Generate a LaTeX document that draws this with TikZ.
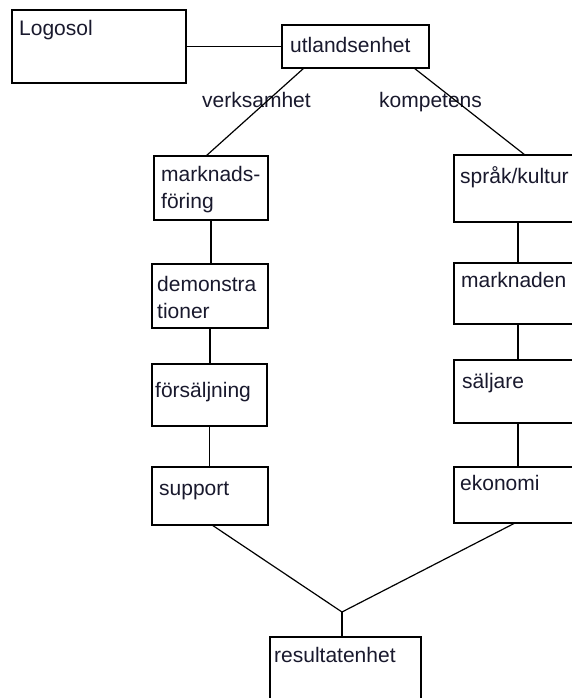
\documentclass[tikz,border=0pt]{standalone}
\usepackage{fontspec}
\setmainfont{Liberation Sans}
\usetikzlibrary{positioning}
\definecolor{textfarg}{RGB}{25,25,45}

\begin{document}
\begin{tikzpicture}[
    x=1pt, y=-1pt,
    font=\fontsize{21}{27}\selectfont,
    boks/.style={draw, line width=2pt, anchor=north west,
                 inner sep=0pt, outer sep=0pt},
    tekst/.style={anchor=base west, inner sep=0pt, align=left, text=textfarg},
    linje/.style={line width=1.8pt},
    sned/.style={line width=1.2pt}
  ]
    \useasboundingbox (0,0) rectangle (572,698);
    \fill[white] (0,0) rectangle (572,698);
    \clip (0,0) rectangle (572,698);
    % Rutor: vänster kolumn x 152, höger kolumn x 454 (skärs av vid kanten).
    \node[boks, minimum width=174pt, minimum height=73pt] (logosol) at (12,10) {};
    \node[boks, minimum width=147pt, minimum height=43pt] (utl) at (282,25) {};
    \node[boks, minimum width=114pt, minimum height=64pt] (mf) at (154,156) {};
    \node[boks, minimum width=116pt, minimum height=64pt] (demo) at (152,264) {};
    \node[boks, minimum width=115pt, minimum height=62pt] (fors) at (152,364) {};
    \node[boks, minimum width=116pt, minimum height=58pt] (sup) at (152,467) {};
    \node[boks, minimum width=128pt, minimum height=67pt] (sk) at (454,155) {};
    \node[boks, minimum width=128pt, minimum height=61pt] (mkn) at (454,263) {};
    \node[boks, minimum width=128pt, minimum height=63pt] (salj) at (454,360) {};
    \node[boks, minimum width=128pt, minimum height=56pt] (eko) at (454,467) {};
    \node[boks, minimum width=151pt, minimum height=80pt] (res) at (270,637) {};
    % Texter uppe till vänster i varje ruta (tvåradiga: sista radens baslinje)
    \node[tekst] (logosol-t) at (19,36) {Logosol};
    \node[tekst] (utl-t) at (290,53) {utlandsenhet};
    \node[tekst] (mf-t) at (161,208) {marknads-\\föring};
    \node[tekst] (demo-t) at (157,318) {demonstra\\tioner};
    \node[tekst] (fors-t) at (155,397) {försäljning};
    \node[tekst] (sup-t) at (159,495) {support};
    \node[tekst] (sk-t) at (460,183) {språk/kultur};
    \node[tekst] (mkn-t) at (461,287) {marknaden};
    \node[tekst] (salj-t) at (462,388) {säljare};
    \node[tekst] (eko-t) at (460,490) {ekonomi};
    \node[tekst] (res-t) at (274,662) {resultatenhet};
    \node[tekst] (verk) at (202,108) {verksamhet};
    \node[tekst] (komp) at (379,108) {kompetens};
    % Linjer
    \draw[linje] (logosol) -- (utl);
    \draw[sned] ([xshift=22pt]utl.south west) -- ([xshift=52pt]mf.north west);
    \draw[sned] ([xshift=-15pt]utl.south east) -- ([xshift=71pt]sk.north west);
    \draw[linje] (mf.south) -- (mf.south |- demo.north);
    \draw[linje] (demo.south) -- (demo.south |- fors.north);
    \draw[linje] (fors.south) -- (fors.south |- sup.north);
    \draw[linje] (sk.south) -- (sk.south |- mkn.north);
    \draw[linje] (mkn.south) -- (mkn.south |- salj.north);
    \draw[linje] (salj.south) -- (salj.south |- eko.north);
    \coordinate (knut) at (342,612);
    \draw[sned] ([xshift=60pt]sup.south west) -- (knut)
      -- ([xshift=61pt]eko.south west);
    \draw[linje] (knut) -- (knut |- res.north);
  \end{tikzpicture}
\end{document}
